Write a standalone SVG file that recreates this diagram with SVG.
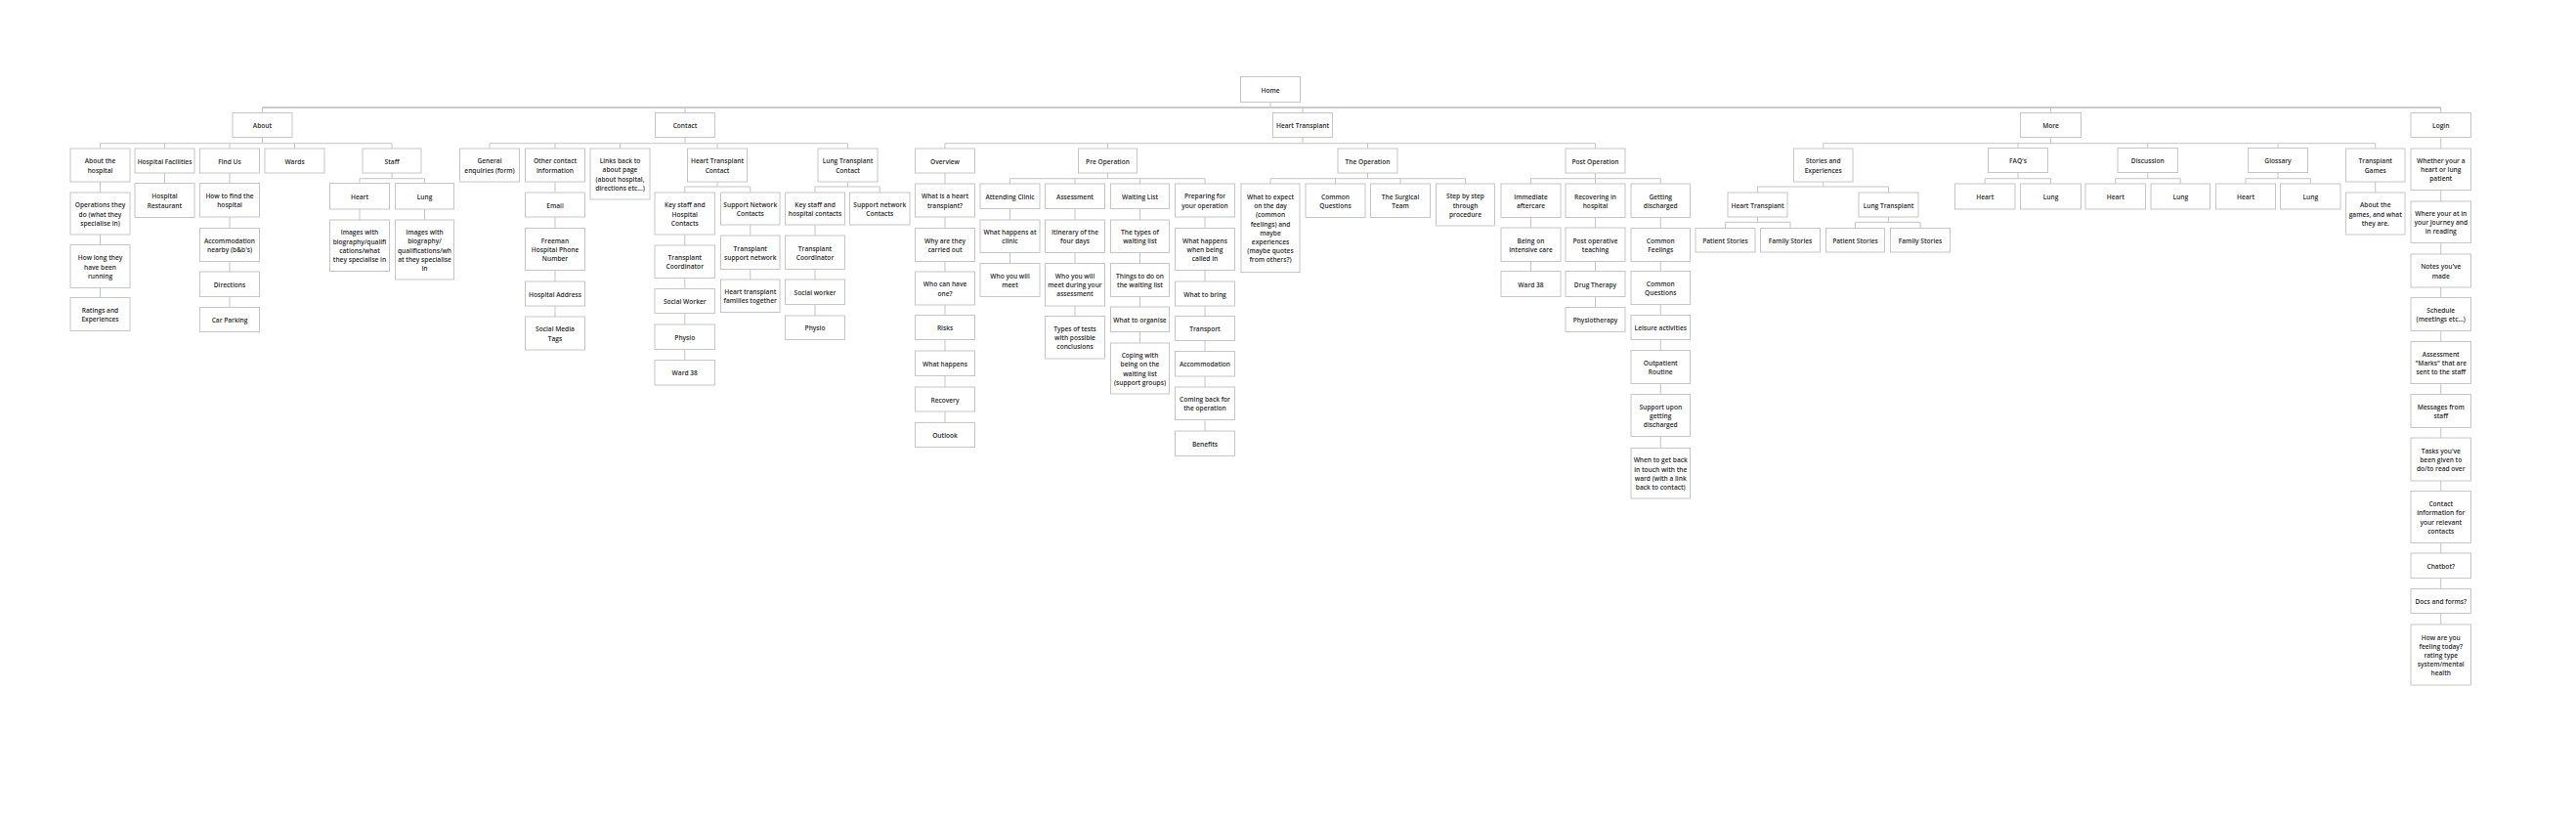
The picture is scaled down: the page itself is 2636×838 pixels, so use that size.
<svg xmlns="http://www.w3.org/2000/svg" width="2636" height="838" viewBox="0 0 2636 838">
<style>
.n rect{fill:#fff;stroke:#c6c6c6;stroke-width:1}
.n text{font-family:"Open Sans","Noto Sans",sans-serif;font-size:6.6px;font-weight:600;fill:#2a2a2a;text-anchor:middle;dominant-baseline:central}
.c path{fill:none;stroke:#c4c4c4;stroke-width:1}
.c path.top{stroke:#b9b9b9;stroke-width:1.6}
</style>
<rect width="2636" height="838" fill="#fff"/>
<g class="c" id="connectors">
<path class="top" d="M268.5,110H2497.75"/>
<path d="M1300,104.5V110M268.5,110V115.5M701,110V115.5M1333,110V115.5M2098.5,110V115.5M2497.75,110V115.5"/>
<!-- About -->
<path d="M268.5,140.5V146.7M102.5,152V146.7H401V152M168.5,146.7V152M235,146.7V152M301.5,146.7V152"/>
<path d="M102.5,186V197M102.5,240V250.5M102.5,294.5V304.5M168.5,177V187.5"/>
<path d="M235,177V187.5M235,222V233.5M235,267.5V278M235,303.5V314.5"/>
<path d="M401,177V182.7M368,187.5V182.7H434.5V187.5M368,214V225M434.5,214V225"/>
<!-- Contact -->
<path d="M701,140.5V146.7M501,152V146.7H867.5V152M568,146.7V152M634.5,146.7V152M734,146.7V152"/>
<path d="M568,186V197M568,222V233.5M568,276.5V288M568,313V324"/>
<path d="M734,186V191M700.75,197V191H767.75V197"/>
<path d="M700.75,240V251M700.75,284.5V295.5M700.75,320.5V332M700.75,357.5V368.5M767.75,230V241M767.75,275.5V286"/>
<path d="M867.5,186V191M834,197V191H900.25V197M834,230V241M834,275.5V286M834,311.5V323"/>
<!-- Heart Transplant -->
<path d="M1333,140.5V146.7M967,152V146.7H1632.5V152M1133.5,146.7V152M1399.5,146.7V152"/>
<path d="M967,177V188M967,222V233.5M967,267.5V278M967,312V322.5M967,347.5V359M967,384.5V396M967,421V432.5"/>
<path d="M1133.5,177V182.7M1033.5,188V182.7H1233V188M1100,182.7V188M1166.5,182.7V188"/>
<path d="M1033.5,213.5V225M1033.5,258.5V269.5M1100,213.5V225M1100,258.5V269.5M1100,313V323.5"/>
<path d="M1166.5,213.5V225M1166.5,258.5V269.5M1166.5,303.5V314M1166.5,339.5V351"/>
<path d="M1233,222V233.5M1233,276.5V288M1233,313V323.5M1233,348.5V359.5M1233,385V396M1233,429.5V441"/>
<path d="M1399.5,177V182.7M1300,188V182.7H1499.5V188M1366.5,182.7V188M1433,182.7V188"/>
<path d="M1632.5,177V182.7M1566.5,188V182.7H1699.25V188M1632.5,182.7V188"/>
<path d="M1566.5,222.5V233M1566.5,267.5V277.5M1632.5,222.5V233M1632.5,267.5V277.5M1632.5,303.5V314.5"/>
<path d="M1699.25,222.5V233.5M1699.25,267.5V277.5M1699.25,311.5V322.5M1699.25,347.5V358.5M1699.25,392.5V403.5M1699.25,446.5V458.5"/>
<!-- More -->
<path d="M2098.5,140.5V146.7M1865.75,152V146.7H2430.75V152M2065,146.7V151.5M2197.75,146.7V151.5M2331,146.7V151.5"/>
<path d="M1865.75,186V191M1798.5,197V191H1932.5V197"/>
<path d="M1798.5,222V227.3M1765.5,233.5V227.3H1832V233.5M1932.5,222V227.3M1898.5,233.5V227.3H1965V233.5"/>
<path d="M2065,176.5V182.7M2031.25,188V182.7H2098.5V188M2197.75,176.5V182.7M2164.75,188V182.7H2231.25V188M2331,176.5V182.7M2298,188V182.7H2364.25V188"/>
<path d="M2430.75,186V197"/>
<!-- Login -->
<path d="M2497.75,140.5V152M2497.75,194.5V206M2497.75,248.5V260M2497.75,294V304.5M2497.75,338.5V349.5M2497.75,392.5V403.5M2497.75,437.5V448M2497.75,492V502.5M2497.75,555.5V566M2497.75,591.5V602.5M2497.75,627.5V639"/>
</g>

<g class="n" id="home"><rect x="1269.5" y="78.5" width="61" height="26"/><text><tspan x="1300" y="91.5">Home</tspan></text></g>

<g class="n" id="about"><rect x="238" y="115.5" width="61" height="25"/><text><tspan x="268.5" y="128">About</tspan></text></g>
<g class="n" id="about-hospital"><rect x="72" y="152" width="61" height="34"/><text><tspan x="102.5" y="164.4">About the</tspan><tspan x="102.5" y="173.6">hospital</tspan></text></g>
<g class="n" id="operations"><rect x="72" y="197" width="61" height="43"/><text><tspan x="102.5" y="209.3">Operations they</tspan><tspan x="102.5" y="218.5">do (what they</tspan><tspan x="102.5" y="227.7">specialise in)</tspan></text></g>
<g class="n" id="how-long"><rect x="72" y="250.5" width="61" height="44"/><text><tspan x="102.5" y="263.3">How long they</tspan><tspan x="102.5" y="272.5">have been</tspan><tspan x="102.5" y="281.7">running</tspan></text></g>
<g class="n" id="ratings"><rect x="72" y="304.5" width="61" height="34"/><text><tspan x="102.5" y="316.9">Ratings and</tspan><tspan x="102.5" y="326.1">Experiences</tspan></text></g>
<g class="n" id="facilities"><rect x="138" y="152" width="61" height="25"/><text><tspan x="168.5" y="164.5">Hospital Facilities</tspan></text></g>
<g class="n" id="restaurant"><rect x="138" y="187.5" width="61" height="35"/><text><tspan x="168.5" y="200.4">Hospital</tspan><tspan x="168.5" y="209.6">Restaurant</tspan></text></g>
<g class="n" id="find-us"><rect x="204.5" y="152" width="61" height="25"/><text><tspan x="235" y="164.5">Find Us</tspan></text></g>
<g class="n" id="how-to-find"><rect x="204.5" y="187.5" width="61" height="34.5"/><text><tspan x="235" y="200.2">How to find the</tspan><tspan x="235" y="209.4">hospital</tspan></text></g>
<g class="n" id="accommodation-nearby"><rect x="204.5" y="233.5" width="61" height="34"/><text><tspan x="235" y="245.9">Accommodation</tspan><tspan x="235" y="255.1">nearby (b&amp;b's)</tspan></text></g>
<g class="n" id="directions"><rect x="204.5" y="278" width="61" height="25.5"/><text><tspan x="235" y="290.75">Directions</tspan></text></g>
<g class="n" id="car-parking"><rect x="204.5" y="314.5" width="61" height="25"/><text><tspan x="235" y="327">Car Parking</tspan></text></g>
<g class="n" id="wards"><rect x="271" y="152" width="61" height="25"/><text><tspan x="301.5" y="164.5">Wards</tspan></text></g>
<g class="n" id="staff"><rect x="371" y="152" width="60" height="25"/><text><tspan x="401" y="164.5">Staff</tspan></text></g>
<g class="n" id="staff-heart"><rect x="337.5" y="187.5" width="61" height="26.5"/><text><tspan x="368" y="200.75">Heart</tspan></text></g>
<g class="n" id="staff-lung"><rect x="404.5" y="187.5" width="60" height="26.5"/><text><tspan x="434.5" y="200.75">Lung</tspan></text></g>
<g class="n" id="heart-images"><rect x="337.5" y="225" width="61" height="52.5"/><text><tspan x="368" y="237.45">Images with</tspan><tspan x="368" y="246.65">biography/qualifi</tspan><tspan x="368" y="255.85">cations/what</tspan><tspan x="368" y="265.05">they specialise in</tspan></text></g>
<g class="n" id="lung-images"><rect x="404.5" y="225" width="60" height="61"/><text><tspan x="434.5" y="237.1">Images with</tspan><tspan x="434.5" y="246.3">biography/</tspan><tspan x="434.5" y="255.5">qualifications/wh</tspan><tspan x="434.5" y="264.7">at they specialise</tspan><tspan x="434.5" y="273.9">in</tspan></text></g>

<g class="n" id="contact"><rect x="670.5" y="115.5" width="61" height="25"/><text><tspan x="701" y="128">Contact</tspan></text></g>
<g class="n" id="general-enquiries"><rect x="470.5" y="152" width="61" height="34"/><text><tspan x="501" y="164.4">General</tspan><tspan x="501" y="173.6">enquiries (form)</tspan></text></g>
<g class="n" id="other-contact"><rect x="537.5" y="152" width="61" height="34"/><text><tspan x="568" y="164.4">Other contact</tspan><tspan x="568" y="173.6">information</tspan></text></g>
<g class="n" id="email"><rect x="537.5" y="197" width="61" height="25"/><text><tspan x="568" y="209.5">Email</tspan></text></g>
<g class="n" id="freeman"><rect x="537.5" y="233.5" width="61" height="43"/><text><tspan x="568" y="245.8">Freeman</tspan><tspan x="568" y="255">Hospital Phone</tspan><tspan x="568" y="264.2">Number</tspan></text></g>
<g class="n" id="hospital-address"><rect x="537.5" y="288" width="61" height="25"/><text><tspan x="568" y="300.5">Hospital Address</tspan></text></g>
<g class="n" id="social-media"><rect x="537.5" y="324" width="61" height="34"/><text><tspan x="568" y="336.4">Social Media</tspan><tspan x="568" y="345.6">Tags</tspan></text></g>
<g class="n" id="links-back"><rect x="604" y="152" width="61" height="52"/><text><tspan x="634.5" y="164.2">Links back to</tspan><tspan x="634.5" y="173.4">about page</tspan><tspan x="634.5" y="182.6">(about hospital,</tspan><tspan x="634.5" y="191.8">directions etc...)</tspan></text></g>
<g class="n" id="heart-transplant-contact"><rect x="703.5" y="152" width="61" height="34"/><text><tspan x="734" y="164.4">Heart Transplant</tspan><tspan x="734" y="173.6">Contact</tspan></text></g>
<g class="n" id="htc-key-staff"><rect x="670" y="197" width="61.5" height="43"/><text><tspan x="700.75" y="209.3">Key staff and</tspan><tspan x="700.75" y="218.5">Hospital</tspan><tspan x="700.75" y="227.7">Contacts</tspan></text></g>
<g class="n" id="htc-coordinator"><rect x="670" y="251" width="61.5" height="33.5"/><text><tspan x="700.75" y="263.15">Transplant</tspan><tspan x="700.75" y="272.35">Coordinator</tspan></text></g>
<g class="n" id="htc-social-worker"><rect x="670" y="295.5" width="61.5" height="25"/><text><tspan x="700.75" y="308">Social Worker</tspan></text></g>
<g class="n" id="htc-physio"><rect x="670" y="332" width="61.5" height="25.5"/><text><tspan x="700.75" y="344.75">Physio</tspan></text></g>
<g class="n" id="htc-ward-38"><rect x="670" y="368.5" width="61.5" height="25.5"/><text><tspan x="700.75" y="381.25">Ward 38</tspan></text></g>
<g class="n" id="htc-support"><rect x="737.5" y="197" width="60.5" height="33"/><text><tspan x="767.75" y="208.9">Support Network</tspan><tspan x="767.75" y="218.1">Contacts</tspan></text></g>
<g class="n" id="htc-support-network"><rect x="737.5" y="241" width="60.5" height="34.5"/><text><tspan x="767.75" y="253.65">Transplant</tspan><tspan x="767.75" y="262.85">support network</tspan></text></g>
<g class="n" id="htc-families"><rect x="737.5" y="286" width="60.5" height="33.5"/><text><tspan x="767.75" y="298.15">Heart transplant</tspan><tspan x="767.75" y="307.35">families together</tspan></text></g>
<g class="n" id="lung-transplant-contact"><rect x="837" y="152" width="61" height="34"/><text><tspan x="867.5" y="164.4">Lung Transplant</tspan><tspan x="867.5" y="173.6">Contact</tspan></text></g>
<g class="n" id="ltc-key-staff"><rect x="803.5" y="197" width="61" height="33"/><text><tspan x="834" y="208.9">Key staff and</tspan><tspan x="834" y="218.1">hospital contacts</tspan></text></g>
<g class="n" id="ltc-support"><rect x="869.5" y="197" width="61.5" height="33"/><text><tspan x="900.25" y="208.9">Support network</tspan><tspan x="900.25" y="218.1">Contacts</tspan></text></g>
<g class="n" id="ltc-coordinator"><rect x="803.5" y="241" width="61" height="34.5"/><text><tspan x="834" y="253.65">Transplant</tspan><tspan x="834" y="262.85">Coordinator</tspan></text></g>
<g class="n" id="ltc-social-worker"><rect x="803.5" y="286" width="61" height="25.5"/><text><tspan x="834" y="298.75">Social worker</tspan></text></g>
<g class="n" id="ltc-physio"><rect x="803.5" y="323" width="61" height="24.5"/><text><tspan x="834" y="335.25">Physio</tspan></text></g>

<g class="n" id="heart-transplant"><rect x="1302.5" y="115.5" width="61" height="25"/><text><tspan x="1333" y="128">Heart Transplant</tspan></text></g>
<g class="n" id="overview"><rect x="936.5" y="152" width="61" height="25"/><text><tspan x="967" y="164.5">Overview</tspan></text></g>
<g class="n" id="ov-what"><rect x="936.5" y="188" width="61" height="34"/><text><tspan x="967" y="200.4">What is a heart</tspan><tspan x="967" y="209.6">transplant?</tspan></text></g>
<g class="n" id="ov-why"><rect x="936.5" y="233.5" width="61" height="34"/><text><tspan x="967" y="245.9">Why are they</tspan><tspan x="967" y="255.1">carried out</tspan></text></g>
<g class="n" id="ov-who"><rect x="936.5" y="278" width="61" height="34"/><text><tspan x="967" y="290.4">Who can have</tspan><tspan x="967" y="299.6">one?</tspan></text></g>
<g class="n" id="ov-risks"><rect x="936.5" y="322.5" width="61" height="25"/><text><tspan x="967" y="335">Risks</tspan></text></g>
<g class="n" id="ov-happens"><rect x="936.5" y="359" width="61" height="25.5"/><text><tspan x="967" y="371.75">What happens</tspan></text></g>
<g class="n" id="ov-recovery"><rect x="936.5" y="396" width="61" height="25"/><text><tspan x="967" y="408.5">Recovery</tspan></text></g>
<g class="n" id="ov-outlook"><rect x="936.5" y="432.5" width="61" height="25"/><text><tspan x="967" y="445">Outlook</tspan></text></g>
<g class="n" id="pre-operation"><rect x="1103.5" y="152" width="60" height="25"/><text><tspan x="1133.5" y="164.5">Pre Operation</tspan></text></g>
<g class="n" id="attending-clinic"><rect x="1003" y="188" width="61" height="25.5"/><text><tspan x="1033.5" y="200.75">Attending Clinic</tspan></text></g>
<g class="n" id="att-what"><rect x="1003" y="225" width="61" height="33.5"/><text><tspan x="1033.5" y="237.15">What happens at</tspan><tspan x="1033.5" y="246.35">clinic</tspan></text></g>
<g class="n" id="att-who"><rect x="1003" y="269.5" width="61" height="34"/><text><tspan x="1033.5" y="281.9">Who you will</tspan><tspan x="1033.5" y="291.1">meet</tspan></text></g>
<g class="n" id="assessment"><rect x="1069.5" y="188" width="61" height="25.5"/><text><tspan x="1100" y="200.75">Assessment</tspan></text></g>
<g class="n" id="as-itinerary"><rect x="1069.5" y="225" width="61" height="33.5"/><text><tspan x="1100" y="237.15">Itinerary of the</tspan><tspan x="1100" y="246.35">four days</tspan></text></g>
<g class="n" id="as-who"><rect x="1069.5" y="269.5" width="61" height="43.5"/><text><tspan x="1100" y="282.05">Who you will</tspan><tspan x="1100" y="291.25">meet during your</tspan><tspan x="1100" y="300.45">assessment</tspan></text></g>
<g class="n" id="as-types"><rect x="1069.5" y="323.5" width="61" height="43.5"/><text><tspan x="1100" y="336.05">Types of tests</tspan><tspan x="1100" y="345.25">with possible</tspan><tspan x="1100" y="354.45">conclusions</tspan></text></g>
<g class="n" id="waiting-list"><rect x="1136.5" y="188" width="60" height="25.5"/><text><tspan x="1166.5" y="200.75">Waiting List</tspan></text></g>
<g class="n" id="wl-types"><rect x="1136.5" y="225" width="60" height="33.5"/><text><tspan x="1166.5" y="237.15">The types of</tspan><tspan x="1166.5" y="246.35">waiting list</tspan></text></g>
<g class="n" id="wl-things"><rect x="1136.5" y="269.5" width="60" height="34"/><text><tspan x="1166.5" y="281.9">Things to do on</tspan><tspan x="1166.5" y="291.1">the waiting list</tspan></text></g>
<g class="n" id="wl-organise"><rect x="1136.5" y="314" width="60" height="25.5"/><text><tspan x="1166.5" y="326.75">What to organise</tspan></text></g>
<g class="n" id="wl-coping"><rect x="1136.5" y="351" width="60" height="52"/><text><tspan x="1166.5" y="363.2">Coping with</tspan><tspan x="1166.5" y="372.4">being on the</tspan><tspan x="1166.5" y="381.6">waiting list</tspan><tspan x="1166.5" y="390.8">(support groups)</tspan></text></g>
<g class="n" id="preparing"><rect x="1202.5" y="188" width="61" height="34"/><text><tspan x="1233" y="200.4">Preparing for</tspan><tspan x="1233" y="209.6">your operation</tspan></text></g>
<g class="n" id="pr-called"><rect x="1202.5" y="233.5" width="61" height="43"/><text><tspan x="1233" y="245.8">What happens</tspan><tspan x="1233" y="255">when being</tspan><tspan x="1233" y="264.2">called in</tspan></text></g>
<g class="n" id="pr-bring"><rect x="1202.5" y="288" width="61" height="25"/><text><tspan x="1233" y="300.5">What to bring</tspan></text></g>
<g class="n" id="pr-transport"><rect x="1202.5" y="323.5" width="61" height="25"/><text><tspan x="1233" y="336">Transport</tspan></text></g>
<g class="n" id="pr-accommodation"><rect x="1202.5" y="359.5" width="61" height="25.5"/><text><tspan x="1233" y="372.25">Accommodation</tspan></text></g>
<g class="n" id="pr-coming-back"><rect x="1202.5" y="396" width="61" height="33.5"/><text><tspan x="1233" y="408.15">Coming back for</tspan><tspan x="1233" y="417.35">the operation</tspan></text></g>
<g class="n" id="pr-benefits"><rect x="1202.5" y="441" width="61" height="25.5"/><text><tspan x="1233" y="453.75">Benefits</tspan></text></g>
<g class="n" id="the-operation"><rect x="1369" y="152" width="61" height="25"/><text><tspan x="1399.5" y="164.5">The Operation</tspan></text></g>
<g class="n" id="op-expect"><rect x="1270" y="188" width="60" height="90.5"/><text><tspan x="1300" y="201.05">What to expect</tspan><tspan x="1300" y="210.25">on the day</tspan><tspan x="1300" y="219.45">(common</tspan><tspan x="1300" y="228.65">feelings) and</tspan><tspan x="1300" y="237.85">maybe</tspan><tspan x="1300" y="247.05">experiences</tspan><tspan x="1300" y="256.25">(maybe quotes</tspan><tspan x="1300" y="265.45">from others?)</tspan></text></g>
<g class="n" id="op-common"><rect x="1336" y="188" width="61" height="34.5"/><text><tspan x="1366.5" y="200.65">Common</tspan><tspan x="1366.5" y="209.85">Questions</tspan></text></g>
<g class="n" id="op-team"><rect x="1402.5" y="188" width="61" height="34.5"/><text><tspan x="1433" y="200.65">The Surgical</tspan><tspan x="1433" y="209.85">Team</tspan></text></g>
<g class="n" id="op-step"><rect x="1469.5" y="188" width="60" height="43"/><text><tspan x="1499.5" y="200.3">Step by step</tspan><tspan x="1499.5" y="209.5">through</tspan><tspan x="1499.5" y="218.7">procedure</tspan></text></g>
<g class="n" id="post-operation"><rect x="1602" y="152" width="61" height="25"/><text><tspan x="1632.5" y="164.5">Post Operation</tspan></text></g>
<g class="n" id="po-immediate"><rect x="1536" y="188" width="61" height="34.5"/><text><tspan x="1566.5" y="200.65">Immediate</tspan><tspan x="1566.5" y="209.85">aftercare</tspan></text></g>
<g class="n" id="po-intensive"><rect x="1536" y="233" width="61" height="34.5"/><text><tspan x="1566.5" y="245.65">Being on</tspan><tspan x="1566.5" y="254.85">intensive care</tspan></text></g>
<g class="n" id="po-ward-38"><rect x="1536" y="277.5" width="61" height="26"/><text><tspan x="1566.5" y="290.5">Ward 38</tspan></text></g>
<g class="n" id="po-recovering"><rect x="1602" y="188" width="61" height="34.5"/><text><tspan x="1632.5" y="200.65">Recovering in</tspan><tspan x="1632.5" y="209.85">hospital</tspan></text></g>
<g class="n" id="po-teaching"><rect x="1602" y="233" width="61" height="34.5"/><text><tspan x="1632.5" y="245.65">Post operative</tspan><tspan x="1632.5" y="254.85">teaching</tspan></text></g>
<g class="n" id="po-drug"><rect x="1602" y="277.5" width="61" height="26"/><text><tspan x="1632.5" y="290.5">Drug Therapy</tspan></text></g>
<g class="n" id="po-physio"><rect x="1602" y="314.5" width="61" height="25"/><text><tspan x="1632.5" y="327">Physiotherapy</tspan></text></g>
<g class="n" id="po-discharged"><rect x="1669" y="188" width="60.5" height="34.5"/><text><tspan x="1699.25" y="200.65">Getting</tspan><tspan x="1699.25" y="209.85">discharged</tspan></text></g>
<g class="n" id="pd-feelings"><rect x="1669" y="233.5" width="60.5" height="34"/><text><tspan x="1699.25" y="245.9">Common</tspan><tspan x="1699.25" y="255.1">Feelings</tspan></text></g>
<g class="n" id="pd-questions"><rect x="1669" y="277.5" width="60.5" height="34"/><text><tspan x="1699.25" y="289.9">Common</tspan><tspan x="1699.25" y="299.1">Questions</tspan></text></g>
<g class="n" id="pd-leisure"><rect x="1669" y="322.5" width="60.5" height="25"/><text><tspan x="1699.25" y="335">Leisure activities</tspan></text></g>
<g class="n" id="pd-outpatient"><rect x="1669" y="358.5" width="60.5" height="34"/><text><tspan x="1699.25" y="370.9">Outpatient</tspan><tspan x="1699.25" y="380.1">Routine</tspan></text></g>
<g class="n" id="pd-support"><rect x="1669" y="403.5" width="60.5" height="43"/><text><tspan x="1699.25" y="415.8">Support upon</tspan><tspan x="1699.25" y="425">getting</tspan><tspan x="1699.25" y="434.2">discharged</tspan></text></g>
<g class="n" id="pd-when"><rect x="1669" y="458.5" width="60.5" height="51.5"/><text><tspan x="1699.25" y="470.45">When to get back</tspan><tspan x="1699.25" y="479.65">in touch with the</tspan><tspan x="1699.25" y="488.85">ward (with a link</tspan><tspan x="1699.25" y="498.05">back to contact)</tspan></text></g>

<g class="n" id="more"><rect x="2067.5" y="115.5" width="62" height="25"/><text><tspan x="2098.5" y="128">More</tspan></text></g>
<g class="n" id="stories"><rect x="1835.5" y="152" width="60.5" height="34"/><text><tspan x="1865.75" y="164.4">Stories and</tspan><tspan x="1865.75" y="173.6">Experiences</tspan></text></g>
<g class="n" id="st-heart"><rect x="1768" y="197" width="61" height="25"/><text><tspan x="1798.5" y="209.5">Heart Transplant</tspan></text></g>
<g class="n" id="st-lung"><rect x="1902" y="197" width="61" height="25"/><text><tspan x="1932.5" y="209.5">Lung Transplant</tspan></text></g>
<g class="n" id="st-heart-patient"><rect x="1735" y="233.5" width="61" height="24.5"/><text><tspan x="1765.5" y="245.75">Patient Stories</tspan></text></g>
<g class="n" id="st-heart-family"><rect x="1801.5" y="233.5" width="61" height="24.5"/><text><tspan x="1832" y="245.75">Family Stories</tspan></text></g>
<g class="n" id="st-lung-patient"><rect x="1868.5" y="233.5" width="60" height="24.5"/><text><tspan x="1898.5" y="245.75">Patient Stories</tspan></text></g>
<g class="n" id="st-lung-family"><rect x="1934.5" y="233.5" width="61" height="24.5"/><text><tspan x="1965" y="245.75">Family Stories</tspan></text></g>
<g class="n" id="faqs"><rect x="2034.5" y="151.5" width="61" height="25"/><text><tspan x="2065" y="164">FAQ's</tspan></text></g>
<g class="n" id="faq-heart"><rect x="2000.5" y="188" width="61.5" height="26"/><text><tspan x="2031.25" y="201">Heart</tspan></text></g>
<g class="n" id="faq-lung"><rect x="2067.5" y="188" width="62" height="26"/><text><tspan x="2098.5" y="201">Lung</tspan></text></g>
<g class="n" id="discussion"><rect x="2167" y="151.5" width="61.5" height="25"/><text><tspan x="2197.75" y="164">Discussion</tspan></text></g>
<g class="n" id="disc-heart"><rect x="2134" y="188" width="61.5" height="26"/><text><tspan x="2164.75" y="201">Heart</tspan></text></g>
<g class="n" id="disc-lung"><rect x="2201" y="188" width="60.5" height="26"/><text><tspan x="2231.25" y="201">Lung</tspan></text></g>
<g class="n" id="glossary"><rect x="2300.5" y="151.5" width="61" height="25"/><text><tspan x="2331" y="164">Glossary</tspan></text></g>
<g class="n" id="gloss-heart"><rect x="2267.5" y="188" width="61" height="26"/><text><tspan x="2298" y="201">Heart</tspan></text></g>
<g class="n" id="gloss-lung"><rect x="2333.5" y="188" width="61.5" height="26"/><text><tspan x="2364.25" y="201">Lung</tspan></text></g>
<g class="n" id="transplant-games"><rect x="2400.5" y="152" width="60.5" height="34"/><text><tspan x="2430.75" y="164.4">Transplant</tspan><tspan x="2430.75" y="173.6">Games</tspan></text></g>
<g class="n" id="games-about"><rect x="2400.5" y="197" width="60.5" height="43"/><text><tspan x="2430.75" y="209.3">About the</tspan><tspan x="2430.75" y="218.5">games, and what</tspan><tspan x="2430.75" y="227.7">they are.</tspan></text></g>

<g class="n" id="login"><rect x="2467" y="115.5" width="61.5" height="25"/><text><tspan x="2497.75" y="128">Login</tspan></text></g>
<g class="n" id="lg-whether"><rect x="2467" y="152" width="61.5" height="42.5"/><text><tspan x="2497.75" y="164.05">Whether your a</tspan><tspan x="2497.75" y="173.25">heart or lung</tspan><tspan x="2497.75" y="182.45">patient</tspan></text></g>
<g class="n" id="lg-where"><rect x="2467" y="206" width="61.5" height="42.5"/><text><tspan x="2497.75" y="218.05">Where your at in</tspan><tspan x="2497.75" y="227.25">your journey and</tspan><tspan x="2497.75" y="236.45">in reading</tspan></text></g>
<g class="n" id="lg-notes"><rect x="2467" y="260" width="61.5" height="34"/><text><tspan x="2497.75" y="272.4">Notes you've</tspan><tspan x="2497.75" y="281.6">made</tspan></text></g>
<g class="n" id="lg-schedule"><rect x="2467" y="304.5" width="61.5" height="34"/><text><tspan x="2497.75" y="316.9">Schedule</tspan><tspan x="2497.75" y="326.1">(meetings etc...)</tspan></text></g>
<g class="n" id="lg-marks"><rect x="2467" y="349.5" width="61.5" height="43"/><text><tspan x="2497.75" y="361.8">Assessment</tspan><tspan x="2497.75" y="371">"Marks" that are</tspan><tspan x="2497.75" y="380.2">sent to the staff</tspan></text></g>
<g class="n" id="lg-messages"><rect x="2467" y="403.5" width="61.5" height="34"/><text><tspan x="2497.75" y="415.9">Messages from</tspan><tspan x="2497.75" y="425.1">staff</tspan></text></g>
<g class="n" id="lg-tasks"><rect x="2467" y="448" width="61.5" height="44"/><text><tspan x="2497.75" y="460.8">Tasks you've</tspan><tspan x="2497.75" y="470">been given to</tspan><tspan x="2497.75" y="479.2">do/to read over</tspan></text></g>
<g class="n" id="lg-contact"><rect x="2467" y="502.5" width="61.5" height="53"/><text><tspan x="2497.75" y="515.2">Contact</tspan><tspan x="2497.75" y="524.4">information for</tspan><tspan x="2497.75" y="533.6">your relevant</tspan><tspan x="2497.75" y="542.8">contacts</tspan></text></g>
<g class="n" id="lg-chatbot"><rect x="2467" y="566" width="61.5" height="25.5"/><text><tspan x="2497.75" y="578.75">Chatbot?</tspan></text></g>
<g class="n" id="lg-docs"><rect x="2467" y="602.5" width="61.5" height="25"/><text><tspan x="2497.75" y="615">Docs and forms?</tspan></text></g>
<g class="n" id="lg-feeling"><rect x="2467" y="639" width="61.5" height="62"/><text><tspan x="2497.75" y="651.6">How are you</tspan><tspan x="2497.75" y="660.8">feeling today?</tspan><tspan x="2497.75" y="670">rating type</tspan><tspan x="2497.75" y="679.2">system/mental</tspan><tspan x="2497.75" y="688.4">health</tspan></text></g>
</svg>
